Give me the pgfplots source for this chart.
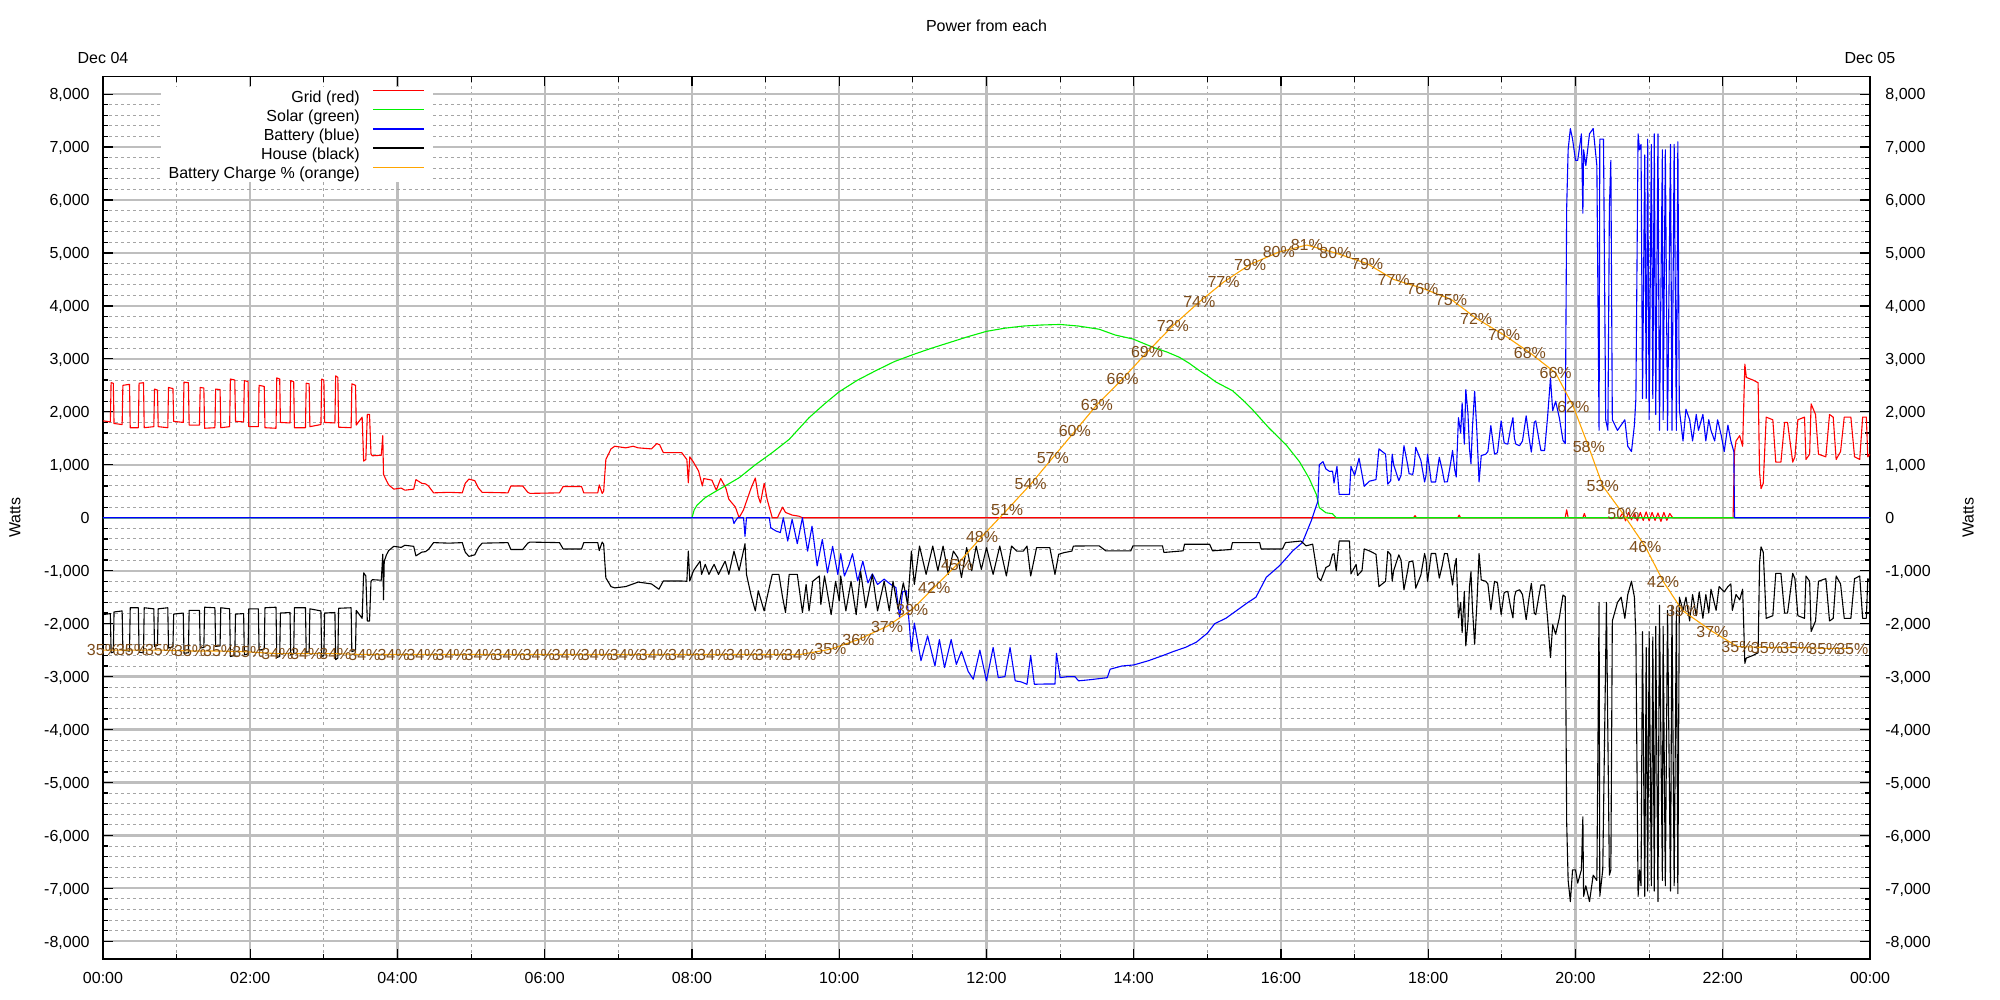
\documentclass[border=0pt]{standalone}
\usepackage{fontspec}
\setmainfont{Liberation Sans}
\usepackage{pgfplots}
\usepackage{pgfplotstable}
\pgfplotsset{compat=1.18}
\definecolor{gridmaj}{RGB}{190,190,190}
\definecolor{gridmin}{RGB}{165,165,165}
\definecolor{lblbrown}{RGB}{125,76,26}
\definecolor{sgreen}{RGB}{0,240,0}
\definecolor{sorange}{RGB}{255,165,0}
\newcommand{\f}{\fontsize{8bp}{9.6bp}\selectfont}

\pgfplotstableread{
h v
0.00 1830
0.10 1810
0.11 2550
0.14 2540
0.15 1780
0.26 1760
0.27 2500
0.36 2520
0.37 1700
0.48 1700
0.49 2540
0.55 2550
0.56 1700
0.69 1720
0.70 2430
0.74 2410
0.75 1720
0.88 1700
0.89 2460
0.95 2440
0.96 1820
1.09 1800
1.10 2560
1.16 2550
1.17 1750
1.31 1750
1.32 2460
1.37 2450
1.38 1690
1.52 1700
1.53 2430
1.59 2420
1.60 1700
1.72 1720
1.73 2620
1.79 2600
1.80 1820
1.91 1810
1.92 2590
1.97 2570
1.98 1720
2.11 1720
2.12 2500
2.19 2480
2.20 1700
2.35 1690
2.36 2640
2.40 2620
2.41 1800
2.54 1790
2.55 2590
2.59 2570
2.60 1700
2.75 1700
2.76 2540
2.80 2530
2.81 1720
2.96 1760
2.97 2620
3.00 2600
3.01 1800
3.15 1790
3.16 2680
3.19 2650
3.20 1710
3.37 1700
3.38 2530
3.43 2500
3.44 1750
3.52 1900
3.54 1070
3.57 1100
3.59 1950
3.62 1950
3.64 1200
3.66 1170
3.78 1180
3.80 1550
3.81 820
3.85 700
3.88 620
3.95 540
4.05 560
4.10 520
4.22 540
4.25 720
4.33 650
4.38 640
4.42 600
4.49 470
4.70 480
4.88 470
4.92 650
4.97 730
5.05 700
5.10 560
5.15 480
5.50 470
5.54 600
5.70 600
5.77 480
5.80 460
6.20 470
6.25 590
6.50 590
6.53 470
6.72 470
6.74 620
6.78 460
6.80 500
6.83 1100
6.90 1300
6.95 1350
7.10 1320
7.20 1350
7.27 1320
7.45 1300
7.52 1400
7.56 1380
7.61 1230
7.86 1230
7.93 1100
7.95 660
7.97 1150
8.02 1050
8.09 880
8.14 600
8.16 740
8.27 710
8.33 520
8.39 740
8.46 560
8.50 350
8.59 200
8.64 0
8.70 150
8.80 550
8.86 750
8.90 400
8.93 280
8.98 650
9.02 350
9.05 200
9.09 0
9.16 0
9.23 200
9.27 100
9.36 50
9.45 30
9.50 0
17.80 0
17.82 40
17.84 0
18.40 0
18.42 50
18.44 0
19.86 0
19.88 150
19.90 0
20.10 0
20.12 80
20.14 0
20.60 0
20.64 90
20.68 -60
20.72 100
20.76 -40
20.80 90
20.84 -60
20.88 100
20.92 -50
20.96 110
21.00 -60
21.04 100
21.08 -50
21.12 90
21.16 -70
21.20 100
21.24 -50
21.28 80
21.32 0
22.14 0
22.16 1250
22.18 1450
22.23 1550
22.27 1350
22.30 2900
22.32 2650
22.41 2600
22.48 2550
22.50 850
22.52 550
22.55 650
22.59 1900
22.68 1850
22.72 1050
22.79 1050
22.84 1800
22.88 1800
22.95 1050
22.98 1150
23.02 1850
23.11 1900
23.13 1100
23.18 1200
23.20 2150
23.26 1950
23.30 1200
23.40 1150
23.45 1950
23.50 1900
23.54 1100
23.60 1250
23.65 1900
23.74 1900
23.79 1150
23.86 1100
23.90 1900
23.95 1900
23.97 1150
24.00 1200
}\gridtab

\pgfplotstableread{
h v
0.00 0
8.00 0
8.03 150
8.07 240
8.18 380
8.30 480
8.45 600
8.64 755
8.86 1000
9.09 1230
9.32 1480
9.59 1890
9.80 2150
10.00 2380
10.25 2600
10.50 2780
10.75 2950
11.00 3080
11.25 3200
11.50 3310
11.75 3420
12.00 3520
12.25 3580
12.50 3620
12.75 3640
13.00 3650
13.25 3620
13.53 3560
13.75 3450
13.99 3375
14.26 3220
14.45 3130
14.62 3030
14.75 2920
14.89 2780
15.00 2680
15.12 2560
15.34 2400
15.50 2200
15.62 2030
15.84 1690
16.07 1375
16.25 1060
16.38 750
16.48 440
16.52 190
16.61 94
16.70 75
16.75 0
24.00 0
}\solartab

\pgfplotstableread{
h v
0.00 0
8.55 0
8.57 -110
8.59 -60
8.62 0
8.70 0
8.72 -350
8.74 0
9.05 0
9.07 -190
9.14 -250
9.20 -280
9.24 0
9.30 -440
9.36 -30
9.43 -490
9.50 0
9.57 -630
9.63 -160
9.70 -910
9.77 -410
9.84 -1040
9.91 -540
9.98 -1070
10.02 -680
10.07 -1100
10.13 -900
10.18 -680
10.25 -1195
10.32 -820
10.39 -1230
10.45 -1060
10.52 -1260
10.61 -1160
10.70 -1260
10.77 -1320
10.82 -1890
10.86 -1400
10.91 -1380
10.95 -1990
10.98 -2520
11.02 -1990
11.11 -2700
11.20 -2230
11.30 -2800
11.36 -2300
11.43 -2830
11.52 -2300
11.59 -2770
11.66 -2520
11.75 -2900
11.82 -3050
11.91 -2500
12.00 -3080
12.09 -2450
12.16 -3020
12.25 -3000
12.32 -2450
12.39 -3080
12.47 -3100
12.55 -3145
12.60 -2600
12.65 -3145
12.80 -3140
12.93 -3140
12.95 -2560
13.00 -3020
13.10 -3000
13.20 -3000
13.25 -3080
13.40 -3060
13.64 -3020
13.68 -2860
13.84 -2800
14.00 -2780
14.20 -2700
14.40 -2600
14.55 -2520
14.70 -2450
14.85 -2350
15.00 -2180
15.10 -2000
15.25 -1900
15.40 -1750
15.55 -1600
15.66 -1500
15.80 -1125
15.98 -906
16.16 -625
16.29 -470
16.41 -60
16.50 310
16.52 1000
16.57 1060
16.61 920
16.66 875
16.70 880
16.72 656
16.76 970
16.79 440
16.93 440
16.95 970
17.00 800
17.06 1125
17.13 594
17.20 690
17.29 720
17.33 1300
17.42 1200
17.45 635
17.49 700
17.51 1200
17.53 1000
17.60 700
17.63 800
17.67 1360
17.72 1000
17.74 830
17.79 820
17.81 1000
17.83 1330
17.90 1080
17.95 675
17.97 800
17.99 1200
18.02 900
18.04 675
18.10 675
18.15 1140
18.19 900
18.22 675
18.26 680
18.30 1000
18.33 1270
18.36 900
18.38 770
18.41 1890
18.44 1600
18.46 2170
18.49 1390
18.51 2420
18.54 1950
18.56 1300
18.58 1020
18.60 1700
18.63 2390
18.66 1640
18.69 675
18.72 1175
18.78 1200
18.81 1250
18.85 1740
18.90 1200
18.94 1230
18.99 1830
19.03 1420
19.05 1400
19.08 1390
19.12 1700
19.15 1890
19.17 1500
19.19 1390
19.24 1360
19.28 1450
19.33 1925
19.37 1500
19.40 1240
19.42 1500
19.44 1800
19.46 1830
19.50 1500
19.53 1270
19.58 1270
19.62 1890
19.66 2640
19.69 2020
19.73 2200
19.78 1890
19.83 1460
19.86 1400
19.88 5850
19.90 6950
19.93 7350
19.96 7150
20.00 6750
20.03 6750
20.08 7250
20.10 5750
20.11 6950
20.14 6650
20.19 7250
20.24 7350
20.29 6650
20.32 1650
20.33 7150
20.38 7150
20.41 1850
20.44 1650
20.46 5850
20.48 6750
20.50 1850
20.57 1650
20.62 1750
20.67 1850
20.71 1350
20.76 1250
20.80 1750
20.82 2250
20.85 7250
20.87 6950
20.89 7050
20.91 2250
20.94 6850
20.96 2250
20.98 7150
21.00 1850
21.03 7050
21.05 2250
21.07 7250
21.09 1950
21.12 7250
21.14 1650
21.18 6950
21.19 1850
21.22 6950
21.25 1650
21.29 7050
21.31 1650
21.34 7050
21.37 1650
21.39 7100
21.41 2050
21.46 1450
21.50 2050
21.55 1850
21.59 1450
21.64 1950
21.67 1650
21.73 1950
21.77 1450
21.81 1850
21.84 1650
21.89 1450
21.93 1850
21.98 1550
22.02 1250
22.07 1750
22.11 1450
22.15 1250
22.16 0
24.00 0
}\batttab

\pgfplotstableread{
h v
0.00 -1830
0.10 -1810
0.11 -2550
0.14 -2540
0.15 -1780
0.26 -1760
0.27 -2500
0.36 -2520
0.37 -1700
0.48 -1700
0.49 -2540
0.55 -2550
0.56 -1700
0.69 -1720
0.70 -2430
0.74 -2410
0.75 -1720
0.88 -1700
0.89 -2460
0.95 -2440
0.96 -1820
1.09 -1800
1.10 -2560
1.16 -2550
1.17 -1750
1.31 -1750
1.32 -2460
1.37 -2450
1.38 -1690
1.52 -1700
1.53 -2430
1.59 -2420
1.60 -1700
1.72 -1720
1.73 -2620
1.79 -2600
1.80 -1820
1.91 -1810
1.92 -2590
1.97 -2570
1.98 -1720
2.11 -1720
2.12 -2500
2.19 -2480
2.20 -1700
2.35 -1690
2.36 -2640
2.40 -2620
2.41 -1800
2.54 -1790
2.55 -2590
2.59 -2570
2.60 -1700
2.75 -1700
2.76 -2540
2.80 -2530
2.81 -1720
2.96 -1760
2.97 -2620
3.00 -2600
3.01 -1800
3.15 -1790
3.16 -2680
3.19 -2650
3.20 -1710
3.37 -1700
3.38 -2530
3.43 -2500
3.44 -1750
3.52 -1900
3.54 -1040
3.57 -1100
3.59 -1950
3.62 -1950
3.64 -1200
3.66 -1170
3.78 -1180
3.80 -690
3.81 -1550
3.82 -820
3.85 -700
3.88 -620
3.95 -540
4.05 -560
4.10 -520
4.22 -540
4.25 -720
4.33 -650
4.38 -640
4.42 -600
4.49 -470
4.70 -480
4.88 -470
4.92 -650
4.97 -730
5.05 -700
5.10 -560
5.15 -480
5.50 -470
5.54 -600
5.70 -600
5.77 -480
5.80 -460
6.20 -470
6.25 -590
6.50 -590
6.53 -470
6.72 -470
6.74 -620
6.78 -460
6.80 -500
6.83 -1135
6.90 -1300
6.95 -1325
7.10 -1300
7.20 -1250
7.27 -1215
7.45 -1250
7.55 -1350
7.61 -1195
7.86 -1195
7.93 -1200
7.95 -630
7.97 -1195
8.02 -1000
8.11 -820
8.13 -1070
8.18 -880
8.23 -1070
8.30 -880
8.36 -1070
8.45 -820
8.50 -1070
8.57 -630
8.64 -1000
8.72 -490
8.74 -1070
8.80 -1450
8.86 -1760
8.90 -1380
8.98 -1760
9.02 -1500
9.09 -1070
9.18 -1070
9.23 -1500
9.27 -1790
9.32 -1070
9.43 -1070
9.50 -1790
9.55 -1260
9.59 -1760
9.64 -1200
9.73 -1100
9.75 -1640
9.80 -1100
9.89 -1830
9.95 -1200
10.00 -1570
10.02 -1100
10.09 -1760
10.16 -1200
10.23 -1830
10.29 -1010
10.36 -1700
10.45 -1070
10.52 -1760
10.61 -1200
10.68 -1760
10.73 -1200
10.80 -1730
10.87 -1230
10.93 -1640
10.98 -630
11.02 -1260
11.09 -535
11.18 -1070
11.27 -535
11.34 -1000
11.41 -535
11.48 -1070
11.55 -630
11.61 -755
11.66 -1130
11.73 -565
11.80 -1000
11.86 -535
11.93 -975
12.00 -565
12.09 -1070
12.18 -535
12.27 -1100
12.34 -535
12.41 -630
12.50 -630
12.55 -535
12.60 -1100
12.68 -565
12.86 -565
12.93 -1070
12.98 -690
13.05 -660
13.16 -630
13.18 -535
13.53 -530
13.62 -625
13.96 -625
13.99 -530
14.39 -530
14.41 -656
14.67 -625
14.69 -500
15.03 -500
15.07 -625
15.32 -600
15.34 -470
15.71 -470
15.73 -590
16.02 -590
16.06 -470
16.27 -440
16.34 -530
16.43 -500
16.50 -1125
16.54 -1190
16.61 -940
16.66 -900
16.70 -690
16.72 -680
16.75 -1000
16.79 -440
16.93 -440
16.95 -1060
17.02 -880
17.04 -1090
17.10 -1000
17.13 -590
17.20 -625
17.29 -690
17.33 -1300
17.42 -1200
17.45 -635
17.49 -700
17.51 -1200
17.53 -1000
17.60 -700
17.63 -800
17.67 -1360
17.72 -1000
17.74 -830
17.79 -820
17.81 -1000
17.83 -1330
17.90 -1080
17.95 -675
17.97 -800
17.99 -1200
18.02 -900
18.04 -675
18.10 -675
18.15 -1140
18.19 -900
18.22 -675
18.26 -680
18.30 -1000
18.33 -1270
18.36 -900
18.38 -770
18.41 -1890
18.44 -1600
18.46 -2170
18.49 -1390
18.51 -2420
18.54 -1950
18.56 -1300
18.58 -1020
18.60 -1700
18.63 -2390
18.66 -1640
18.69 -675
18.72 -1175
18.78 -1200
18.81 -1250
18.85 -1740
18.90 -1200
18.94 -1230
18.99 -1830
19.03 -1420
19.05 -1400
19.08 -1390
19.12 -1700
19.15 -1890
19.17 -1500
19.19 -1390
19.24 -1360
19.28 -1450
19.33 -1925
19.37 -1500
19.40 -1240
19.42 -1500
19.44 -1800
19.46 -1830
19.50 -1500
19.53 -1270
19.58 -1270
19.62 -1890
19.66 -2640
19.69 -2020
19.73 -2200
19.78 -1890
19.83 -1460
19.86 -1490
19.88 -5750
19.90 -6850
19.93 -7250
19.96 -6650
20.00 -6650
20.03 -6900
20.08 -6650
20.10 -5650
20.11 -7150
20.14 -6950
20.19 -7250
20.24 -6750
20.29 -6850
20.32 -1600
20.33 -7150
20.37 -6650
20.42 -1600
20.46 -6750
20.48 -6650
20.50 -1950
20.57 -1600
20.62 -1500
20.67 -1900
20.71 -1450
20.76 -1200
20.80 -1500
20.82 -2250
20.85 -7150
20.87 -6650
20.89 -6950
20.91 -2150
20.94 -7150
20.96 -2450
20.98 -7050
21.00 -2150
21.03 -6950
21.05 -2250
21.07 -7050
21.09 -2050
21.12 -7250
21.14 -1650
21.18 -6850
21.19 -2050
21.22 -6950
21.25 -1750
21.29 -7050
21.31 -1650
21.34 -6950
21.37 -1750
21.39 -7100
21.41 -1500
21.46 -1750
21.50 -1500
21.55 -1950
21.59 -1450
21.64 -1850
21.68 -1400
21.73 -1900
21.77 -1450
21.81 -1800
21.84 -1350
21.91 -1750
21.95 -1300
22.02 -1400
22.07 -1300
22.11 -1250
22.13 -1750
22.18 -1450
22.23 -1550
22.27 -1350
22.30 -2750
22.32 -2650
22.41 -2600
22.48 -2550
22.50 -850
22.52 -550
22.55 -650
22.59 -1900
22.68 -1850
22.72 -1050
22.79 -1050
22.84 -1800
22.88 -1800
22.95 -1050
22.98 -1150
23.02 -1850
23.11 -1900
23.13 -1100
23.18 -1200
23.20 -2150
23.26 -1950
23.30 -1200
23.40 -1150
23.45 -1950
23.50 -1900
23.54 -1100
23.60 -1250
23.65 -1900
23.74 -1900
23.79 -1150
23.86 -1100
23.90 -1900
23.95 -1900
23.97 -1150
24.00 -1200
}\housetab

\pgfplotstableread{
h p lab
0.000 35.0 35
0.395 35.0 35
0.789 35.0 35
1.184 34.9 35
1.578 34.9 35
1.973 34.8 35
2.368 34.6 34
2.762 34.6 34
3.157 34.6 34
3.551 34.5 34
3.946 34.5 34
4.341 34.5 34
4.735 34.5 34
5.130 34.5 34
5.524 34.5 34
5.919 34.5 34
6.314 34.5 34
6.708 34.5 34
7.103 34.5 34
7.497 34.5 34
7.892 34.5 34
8.287 34.5 34
8.681 34.5 34
9.076 34.5 34
9.470 34.5 34
9.88 35.1 35
10.26 36.2 36
10.65 37.7 37
10.99 39.6 39
11.29 42.1 42
11.60 44.7 45
11.94 47.9 48
12.28 50.9 51
12.60 53.8 54
12.90 56.8 57
13.20 59.8 60
13.50 62.8 63
13.85 65.75 66
14.18 68.75 69
14.53 71.75 72
14.89 74.45 74
15.22 76.7 77
15.58 78.7 79
15.97 80.1 80
16.35 80.9 81
16.74 80.0 80
17.17 78.8 79
17.53 77.0 77
17.92 76.0 76
18.31 74.75 75
18.65 72.6 72
19.03 70.7 70
19.38 68.7 68
19.73 66.4 66
19.97 62.6 62
20.18 58.0 58
20.37 53.6 53
20.65 50.4 50
20.95 46.7 46
21.19 42.8 42
21.45 39.5 39
21.86 37.1 37
22.20 35.4 35
22.60 35.3 35
23.00 35.3 35
23.38 35.2 35
23.76 35.2 35
}\soctab

\begin{document}
\begin{tikzpicture}[font=\f]
\path[use as bounding box] (-51.5bp,-20.5bp) rectangle (948.5bp,479.5bp);
\begin{axis}[
  name=main,
  at={(0,0)}, anchor=south west,
  width=883.5bp, height=441.25bp, scale only axis,
  xmin=0, xmax=24, ymin=-8333.33, ymax=8333.33,
  xtick={0,2,...,24}, minor xtick={1,3,...,23},
  xticklabels={00:00,02:00,04:00,06:00,08:00,10:00,12:00,14:00,16:00,18:00,20:00,22:00,00:00},
  ytick={-8000,-7000,...,8000}, minor y tick num=4,
  scaled y ticks=false,
  /pgf/number format/1000 sep={,},
  /pgf/number format/assume math mode=true,
  grid=both,
  major grid style={gridmaj, line width=1.1bp},
  minor grid style={gridmin, line width=0.5bp, dash pattern=on 1.5bp off 1.5bp},
  tick align=inside, tick pos=both,
  major tick length=5bp, minor tick length=2.7bp,
  tick style={black, line width=0.6bp},
  axis line style={line width=0.9bp},
  xticklabel style={anchor=north, inner sep=0pt, yshift=-6.5bp, text height=5.73bp, text depth=0pt, font=\f},
  yticklabel style={anchor=base east, inner sep=0pt, xshift=-6.5bp, yshift=-2.87bp, font=\f},
  ylabel={Watts},
  every axis y label/.style={at={(rel axis cs:-0.0498,0.5)}, rotate=90, anchor=center, font=\f},
  title={Power from each},
  every axis title/.style={at={(rel axis cs:0.5,1.0513)}, anchor=base, font=\f},
  legend plot pos=right, legend cell align=right,
  legend style={at={(rel axis cs:0.18676,0.9881)}, anchor=north east, draw=none, fill=white,
    inner xsep=4bp, inner ysep=0pt, outer sep=0pt, column sep=6.5bp, row sep=0pt, font=\f,
    nodes={inner sep=0pt, text height=7.7bp, text depth=1.85bp}},
  legend image code/.code={\draw[#1, line width=0.6bp] (0bp,2.87bp) -- (25.5bp,2.87bp);},
]
\addplot[red, line width=0.55bp, line join=round] table[x=h, y=v] {\gridtab};
\addlegendentry{Grid (red)}
\addplot[sgreen, line width=0.55bp, line join=round] table[x=h, y=v] {\solartab};
\addlegendentry{Solar (green)}
\addplot[blue, line width=0.55bp, line join=round] table[x=h, y=v] {\batttab};
\addlegendentry{Battery (blue)}
\addplot[black, line width=0.55bp, line join=round] table[x=h, y=v] {\housetab};
\addlegendentry{House (black)}
\addplot[sorange, line width=0.55bp, line join=round,
  point meta=explicit symbolic,
  nodes near coords={\pgfplotspointmeta\%},
  every node near coord/.append style={anchor=center, inner sep=0pt, text height=5.73bp, text depth=0pt, font=\f, text=lblbrown}]
  table[x=h, y expr=(\thisrow{p}-50)*166.6667, meta=lab] {\soctab};
\addlegendentry{Battery Charge \% (orange)}
\end{axis}
\node[anchor=base, font=\f] at ([yshift=6.7bp]main.north west) {Dec 04};
\node[anchor=base, font=\f] at ([yshift=6.7bp]main.north east) {Dec 05};
\begin{axis}[
  at={(0,0)}, anchor=south west,
  width=883.5bp, height=441.25bp, scale only axis,
  xmin=0, xmax=24, ymin=-8333.33, ymax=8333.33,
  hide x axis, axis y line*=right, y axis line style={draw=none},
  ytick={-8000,-7000,...,8000}, major tick length=0pt, minor tick num=0,
  scaled y ticks=false,
  /pgf/number format/1000 sep={,},
  /pgf/number format/assume math mode=true,
  yticklabel style={anchor=base west, inner sep=0pt, xshift=7.5bp, yshift=-2.87bp, font=\f},
  ylabel={Watts},
  every axis y label/.style={at={(rel axis cs:1.0555,0.5)}, rotate=90, anchor=center, font=\f},
]
\addplot[draw=none] coordinates {(0,0)};
\end{axis}
\end{tikzpicture}
\end{document}
